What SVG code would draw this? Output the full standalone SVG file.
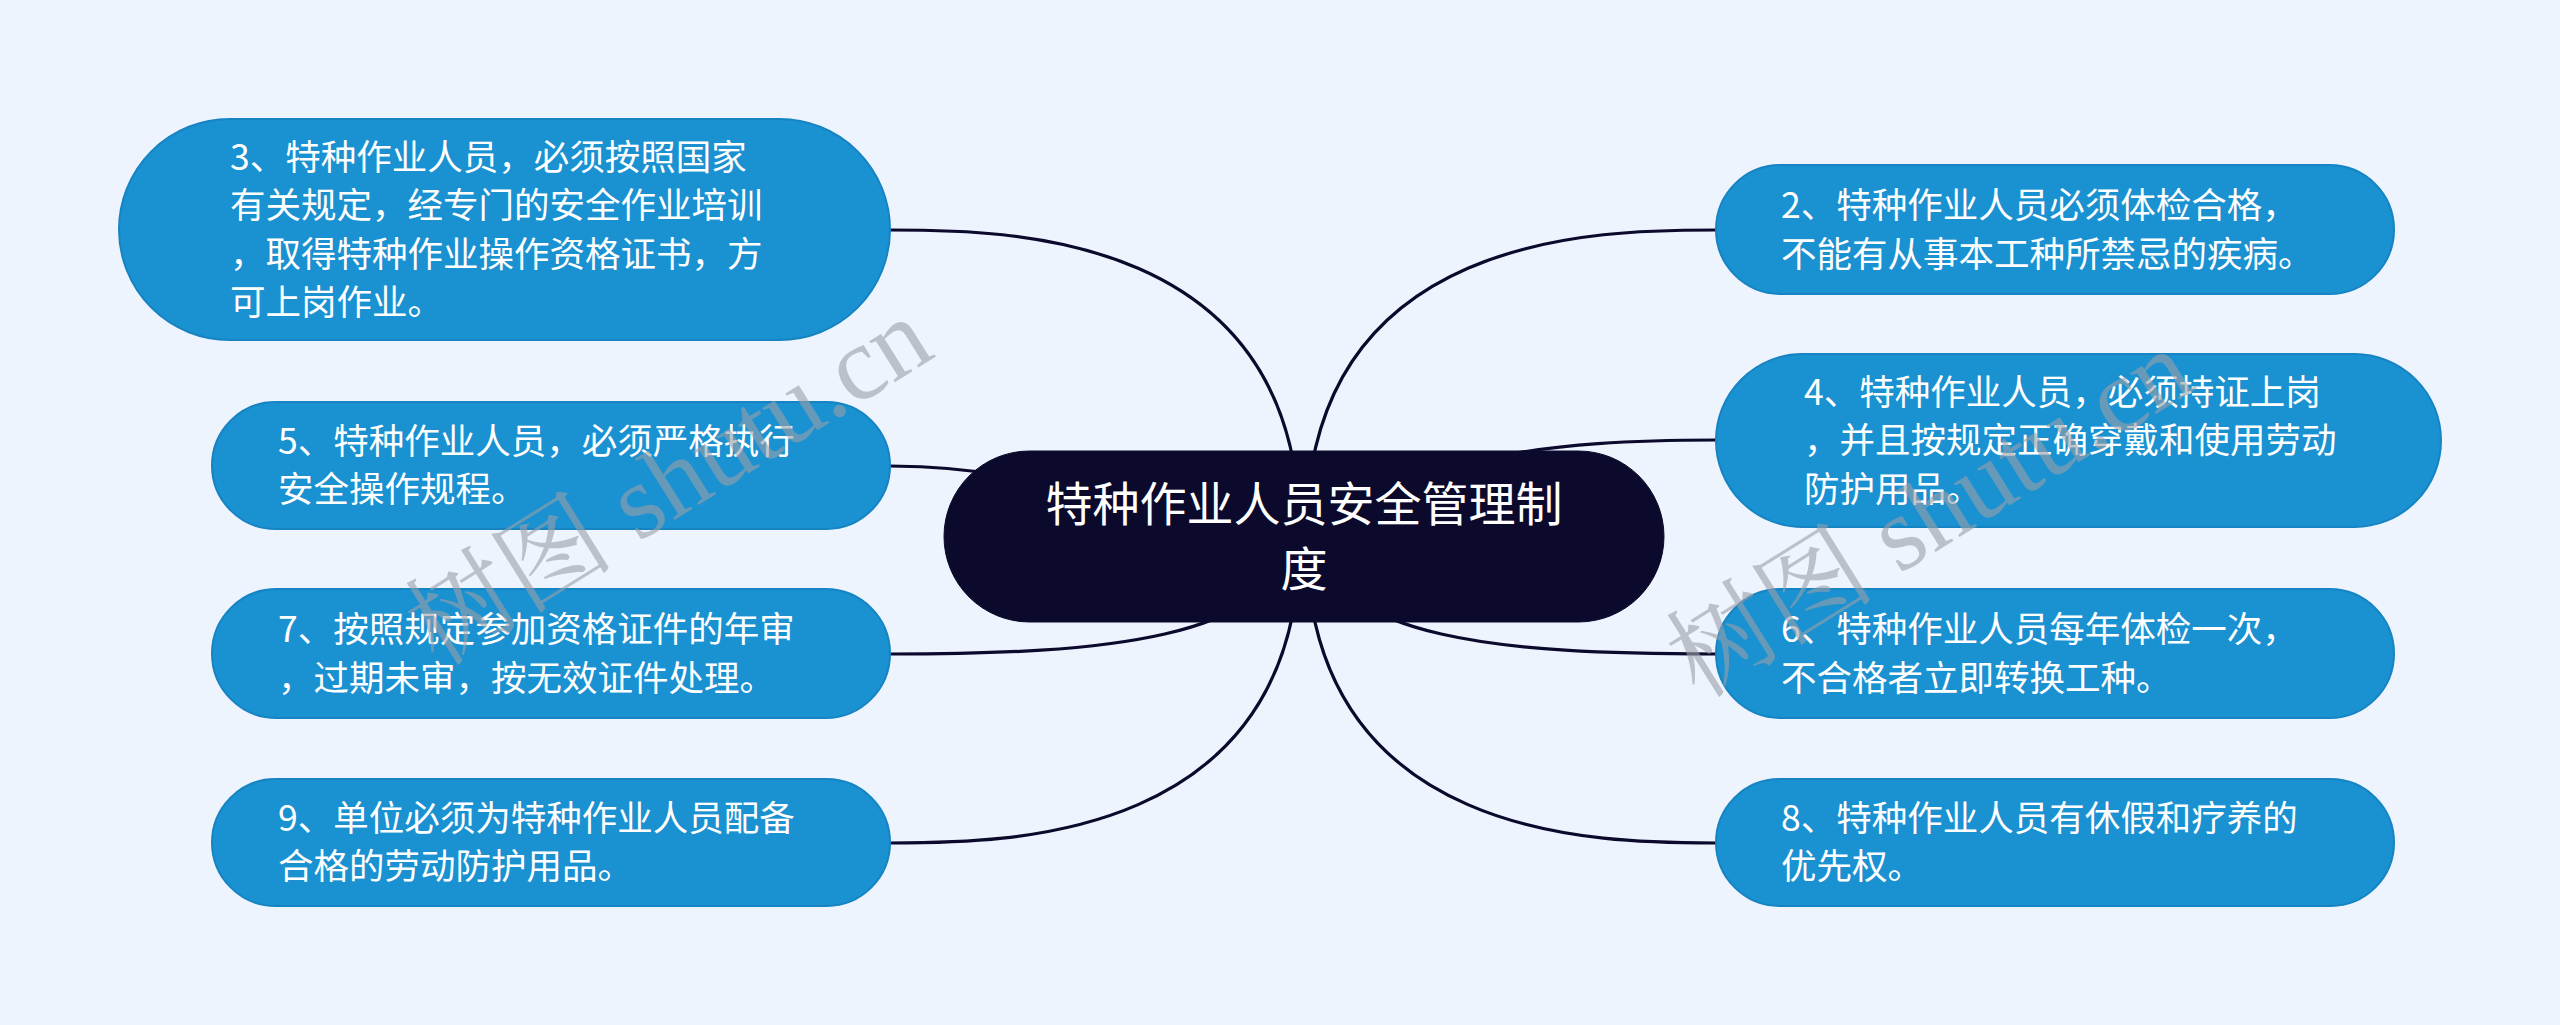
<svg xmlns="http://www.w3.org/2000/svg" width="2560" height="1025" viewBox="0 0 2560 1025">
<style>
.bg{fill:#EEF4FD}
.node rect{fill:#1A91D1;stroke:#1683C2;stroke-width:2}
.node text{fill:#FFFFFF;font-family:"Noto Sans CJK SC","Noto Sans",sans-serif;font-size:35.5px}
#root rect{fill:#0B0A2C;stroke:#0B0A2C}
#root text{fill:#FFFFFF;font-family:"Noto Sans CJK SC","Noto Sans",sans-serif;font-size:47px}
#connectors path{fill:none;stroke:#0B0A2C;stroke-width:3.2}
.wm{fill:#9AA0AA;opacity:0.6;font-family:"Liberation Serif","Noto Serif CJK SC","Noto Sans CJK SC",serif;font-size:105px}
</style>
<rect class="bg" x="0" y="0" width="2560" height="1025"/>
<g id="connectors">
<path d="M1300 536 C1300 230 1005 230 890 230"/>
<path d="M1300 536 C1150 520 1050 466 890 466"/>
<path d="M1300 536 C1270 640 1106 654 890 654"/>
<path d="M1300 536 C1300 843 1005 843 890 843"/>
<path d="M1306 536 C1306 230 1601 230 1716 230"/>
<path d="M1306 536 C1420 455 1550 440 1716 440"/>
<path d="M1306 536 C1336 640 1500 654 1716 654"/>
<path d="M1306 536 C1306 843 1601 843 1716 843"/>
</g>
<g id="root">
<rect x="944" y="451" width="720" height="171" rx="85.5"/>
<text text-anchor="middle"><tspan x="1304" y="521">特种作业人员安全管理制</tspan><tspan x="1304" y="586">度</tspan></text>
</g>
<g id="node3" class="node">
<rect x="119" y="119" width="771" height="221" rx="110.5"/>
<text x="230" y="170">3、特种作业人员，必须按照国家</text>
<text x="230" y="218">有关规定，经专门的安全作业培训</text>
<text x="230" y="267">，取得特种作业操作资格证书，方</text>
<text x="230" y="315">可上岗作业。</text>
</g>
<g id="node5" class="node">
<rect x="212" y="402" width="678" height="127" rx="63.5"/>
<text x="278" y="454">5、特种作业人员，必须严格执行</text>
<text x="278" y="502">安全操作规程。</text>
</g>
<g id="node7" class="node">
<rect x="212" y="589" width="678" height="129" rx="64.5"/>
<text x="278" y="642">7、按照规定参加资格证件的年审</text>
<text x="278" y="691">，过期未审，按无效证件处理。</text>
</g>
<g id="node9" class="node">
<rect x="212" y="779" width="678" height="127" rx="63.5"/>
<text x="278" y="831">9、单位必须为特种作业人员配备</text>
<text x="278" y="879">合格的劳动防护用品。</text>
</g>
<g id="node2" class="node">
<rect x="1716" y="165" width="678" height="129" rx="64.5"/>
<text x="1781" y="218">2、特种作业人员必须体检合格，</text>
<text x="1781" y="267">不能有从事本工种所禁忌的疾病。</text>
</g>
<g id="node4" class="node">
<rect x="1716" y="354" width="725" height="173" rx="86.5"/>
<text x="1804" y="405">4、特种作业人员，必须持证上岗</text>
<text x="1804" y="453">，并且按规定正确穿戴和使用劳动</text>
<text x="1804" y="502">防护用品。</text>
</g>
<g id="node6" class="node">
<rect x="1716" y="589" width="678" height="129" rx="64.5"/>
<text x="1781" y="642">6、特种作业人员每年体检一次，</text>
<text x="1781" y="691">不合格者立即转换工种。</text>
</g>
<g id="node8" class="node">
<rect x="1716" y="779" width="678" height="127" rx="63.5"/>
<text x="1781" y="831">8、特种作业人员有休假和疗养的</text>
<text x="1781" y="879">优先权。</text>
</g>
<text class="wm" transform="translate(669 482) rotate(-32)" text-anchor="middle" y="35">树图 shutu.cn</text>
<text class="wm" transform="translate(1930 514) rotate(-32)" text-anchor="middle" y="35">树图 shutu.cn</text>
</svg>
